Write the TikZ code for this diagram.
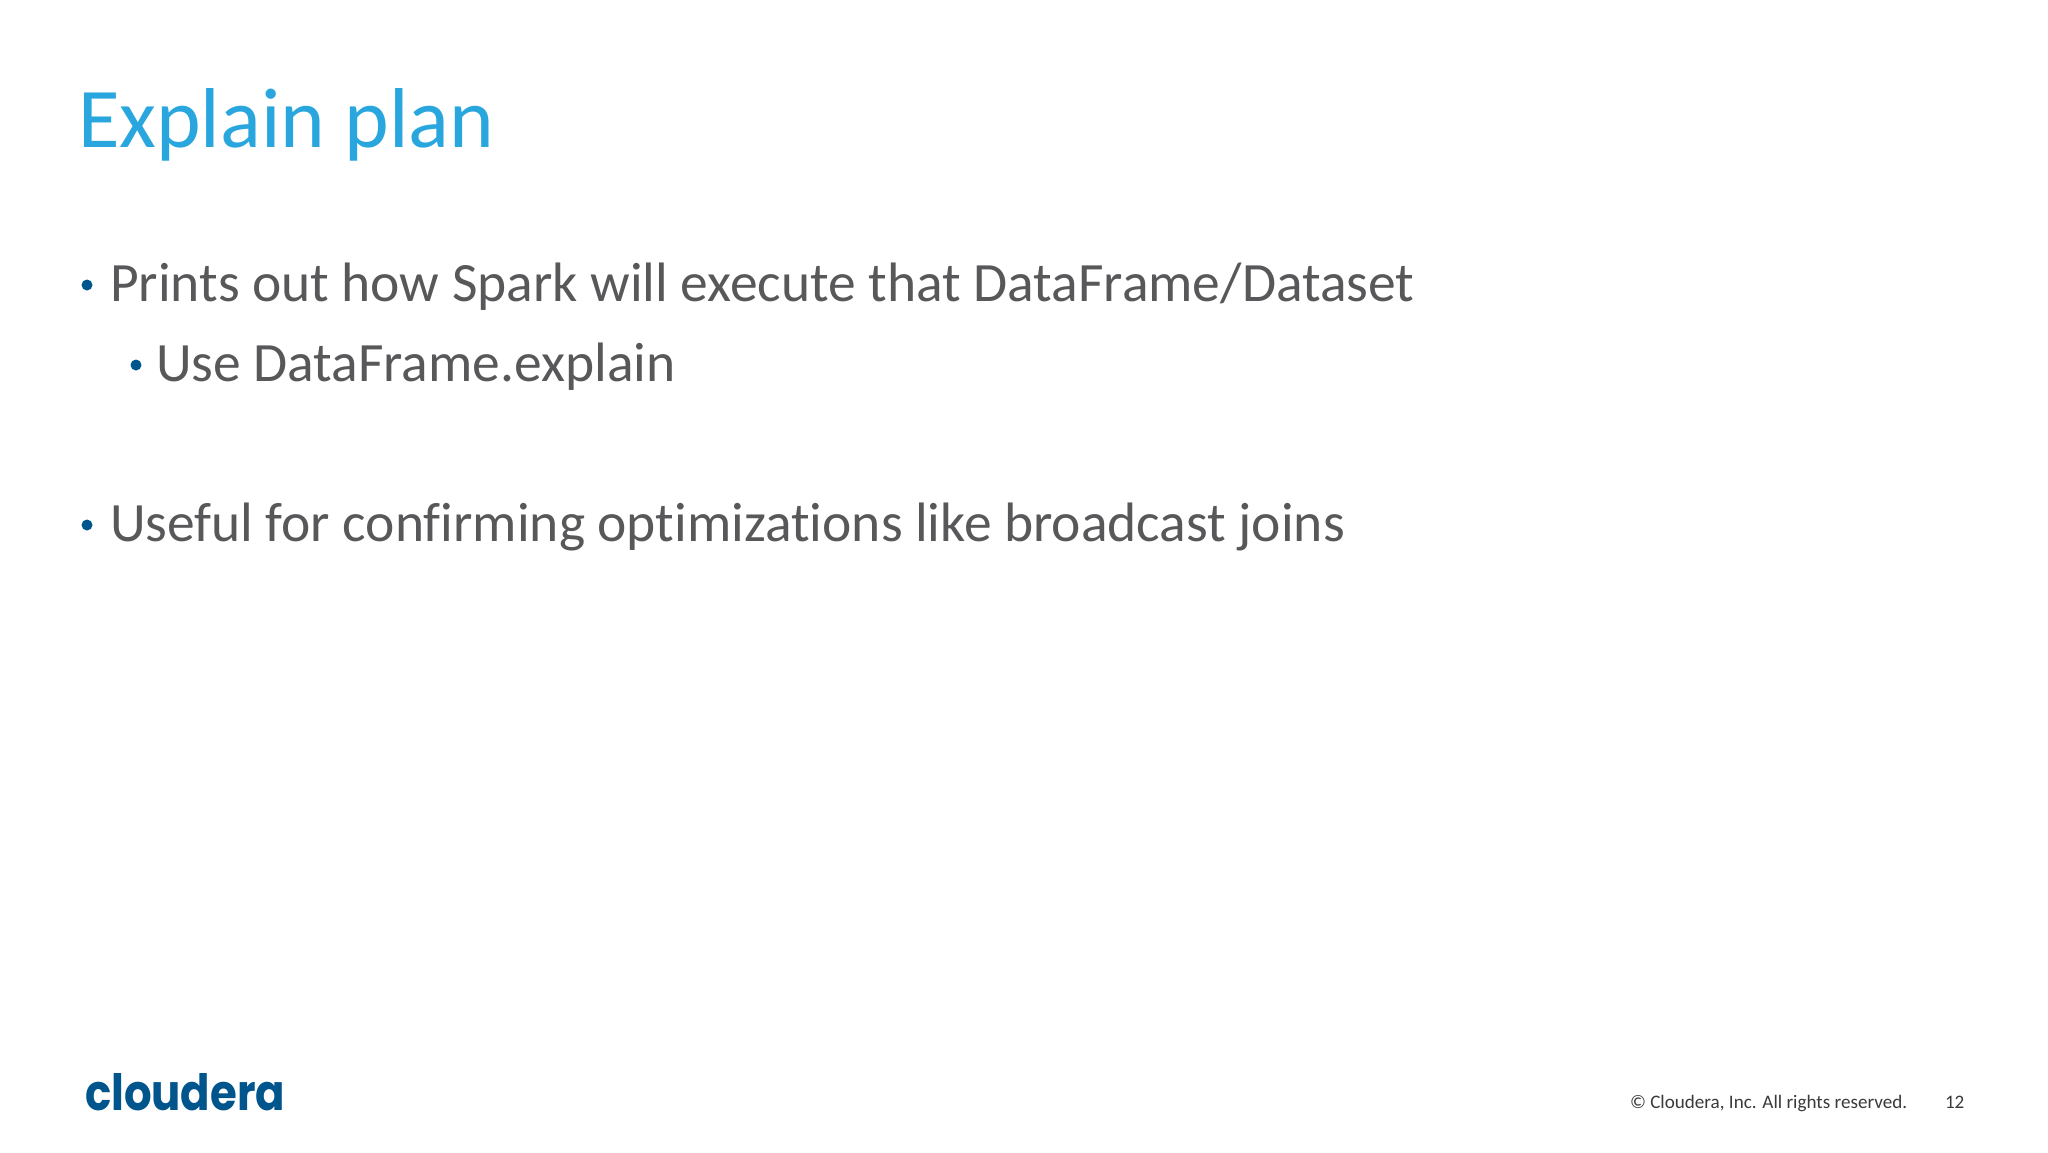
\documentclass[tikz,border=0pt]{standalone}
\usepackage{fontspec}
\setmainfont{Carlito}[Ligatures=CommonOff]
\newfontfamily\logofont{Poppins}[BoldFont={* Bold}]
\definecolor{titleblue}{HTML}{29A6DE}
\definecolor{bodygrey}{HTML}{58575A}
\definecolor{brandblue}{HTML}{00558C}
\definecolor{footgrey}{HTML}{3A3A3C}
\tikzset{
  txt/.style={anchor=base west,inner sep=0pt,outer sep=0pt},
  titletxt/.style={txt,text=titleblue,font=\fontsize{85}{90}\selectfont},
  bodytxt/.style={txt,text=bodygrey,font=\fontsize{55.5}{60}\selectfont},
  foottxt/.style={txt,text=footgrey,font=\fontsize{19.1}{24}\selectfont},
  dotmark/.style={circle,fill=brandblue,inner sep=0pt,minimum size=11pt},
}
\begin{document}
\begin{tikzpicture}[x=1pt,y=-1pt]
\useasboundingbox[fill=white] (0,0) rectangle (2048,1152);
\node[titletxt] (title) at (78,147) {Explain plan};
\node[dotmark] (d1) at (87,285) {};
\node[bodytxt] (b1) at (110,301) {Prints out how Spark will execute that DataFrame/Dataset};
\node[dotmark] (d2) at (136,365) {};
\node[bodytxt] (b2) at (156,381) {Use DataFrame.explain};
\node[dotmark] (d3) at (87,525) {};
\node[bodytxt] (b3) at (110,541) {Useful for confirming optimizations like broadcast joins};
\node[txt,text=brandblue,font=\logofont\bfseries\fontsize{50}{54}\selectfont] (logo) at (85,1110) {\scalebox{0.868}[1]{cloudera}};
\node[foottxt] (copy) at (1630,1108) {© Cloudera, Inc. All rights reserved.};
\node[foottxt] (page) at (1945,1108) {12};
\end{tikzpicture}
\end{document}
